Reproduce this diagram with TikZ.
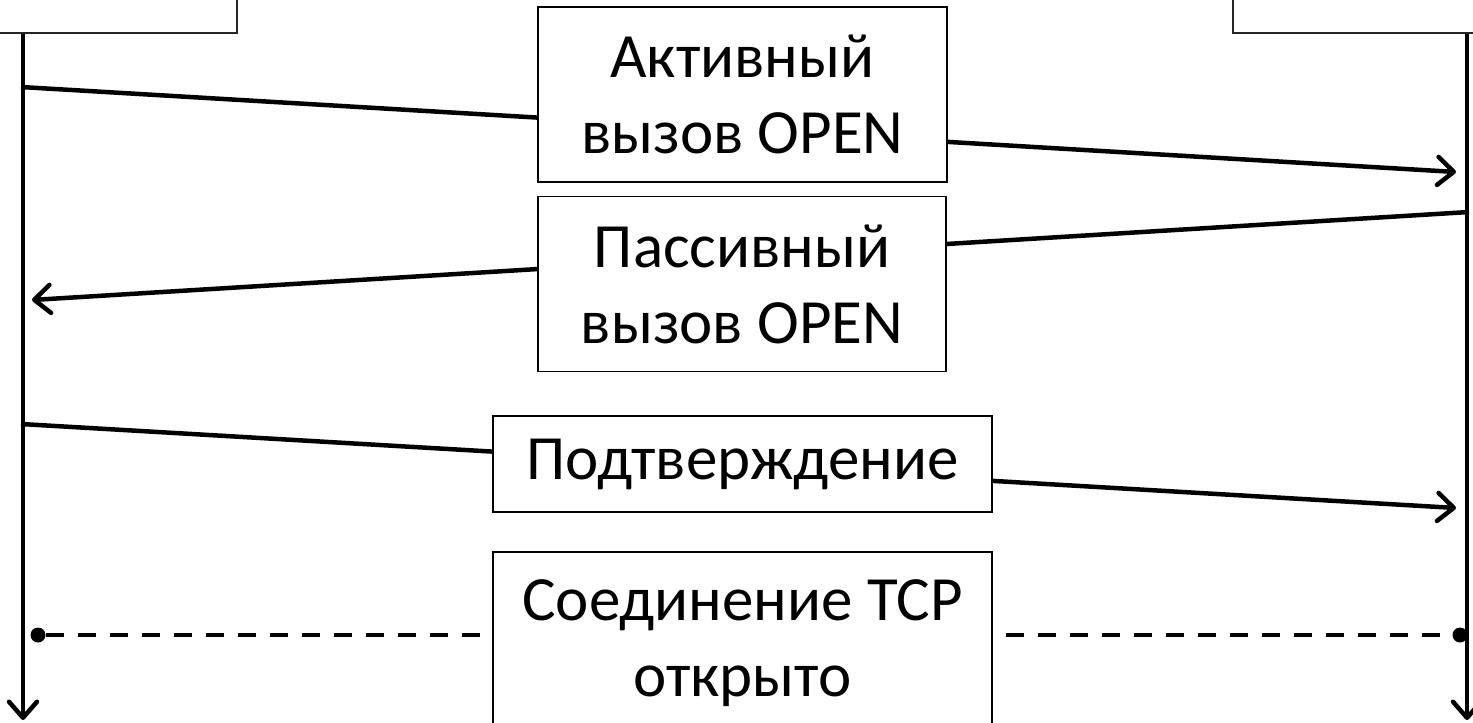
\documentclass[tikz,border=0pt]{standalone}
\usepackage{fontspec}
\setmainfont{Carlito}
\usetikzlibrary{arrows.meta,positioning}

\begin{document}
\begin{tikzpicture}[x=1pt, y=-1pt,
    msgbox/.style={rectangle, draw=black, line width=1.5pt, fill=white, align=center, inner sep=0pt, font=\fontsize{63}{76}\selectfont},
    hostbox/.style={rectangle, draw=black!85, line width=2pt, fill=white, minimum width=250pt, minimum height=45pt},
    lifeline/.style={line width=4.5pt, -{Straight Barb[length=16pt,width=28pt,round]}},
    msg/.style={line width=4.5pt, -{Straight Barb[length=16pt,width=28pt,round]}},
    estab/.style={line width=4.5pt, dash pattern=on 18pt off 14pt},
    enddot/.style={circle, fill=black, minimum size=15pt, inner sep=0pt}
]
\useasboundingbox (0,0) rectangle (1473,723);

% hosts
\node[hostbox] (hostA) at (112,10) {};
\node[hostbox] (hostB) at (1358,10) {};

\coordinate (aTop) at (23,34);
\coordinate (aEnd) at (23,720);
\coordinate (bTop) at (1467,34);
\coordinate (bEnd) at (1467,720);
\draw[lifeline] (aTop) -- (aEnd);
\draw[lifeline] (bTop) -- (bEnd);

% message points
\coordinate (a1) at (21,87);
\coordinate (b1) at (1456,172);
\coordinate (b2) at (1469,212);
\coordinate (a2) at (32,300);
\coordinate (a3) at (21,424);
\coordinate (b3) at (1456,508);

\draw[msg] (a1) -- (b1);
\draw[msg] (b2) -- (a2);
\draw[msg] (a3) -- (b3);

\node[enddot] (dotA) at (38,635) {};
\node[enddot] (dotB) at (1460,635) {};
\draw[estab] (dotA) -- (dotB);

% labels
\node[msgbox, minimum width=409pt, minimum height=175pt] (active) at (742.5,94.5) {Активный\\вызов OPEN};
\node[msgbox, minimum width=408pt, minimum height=175pt] (passive) at (742,284) {Пассивный\\вызов OPEN};
\node[msgbox, minimum width=499pt, minimum height=96pt] (ack) at (742.5,464) {Подтверждение};
\node[msgbox, minimum width=499pt, minimum height=182pt] (conn) at (742.5,643) {Соединение TCP\\открыто};

\end{tikzpicture}
\end{document}
